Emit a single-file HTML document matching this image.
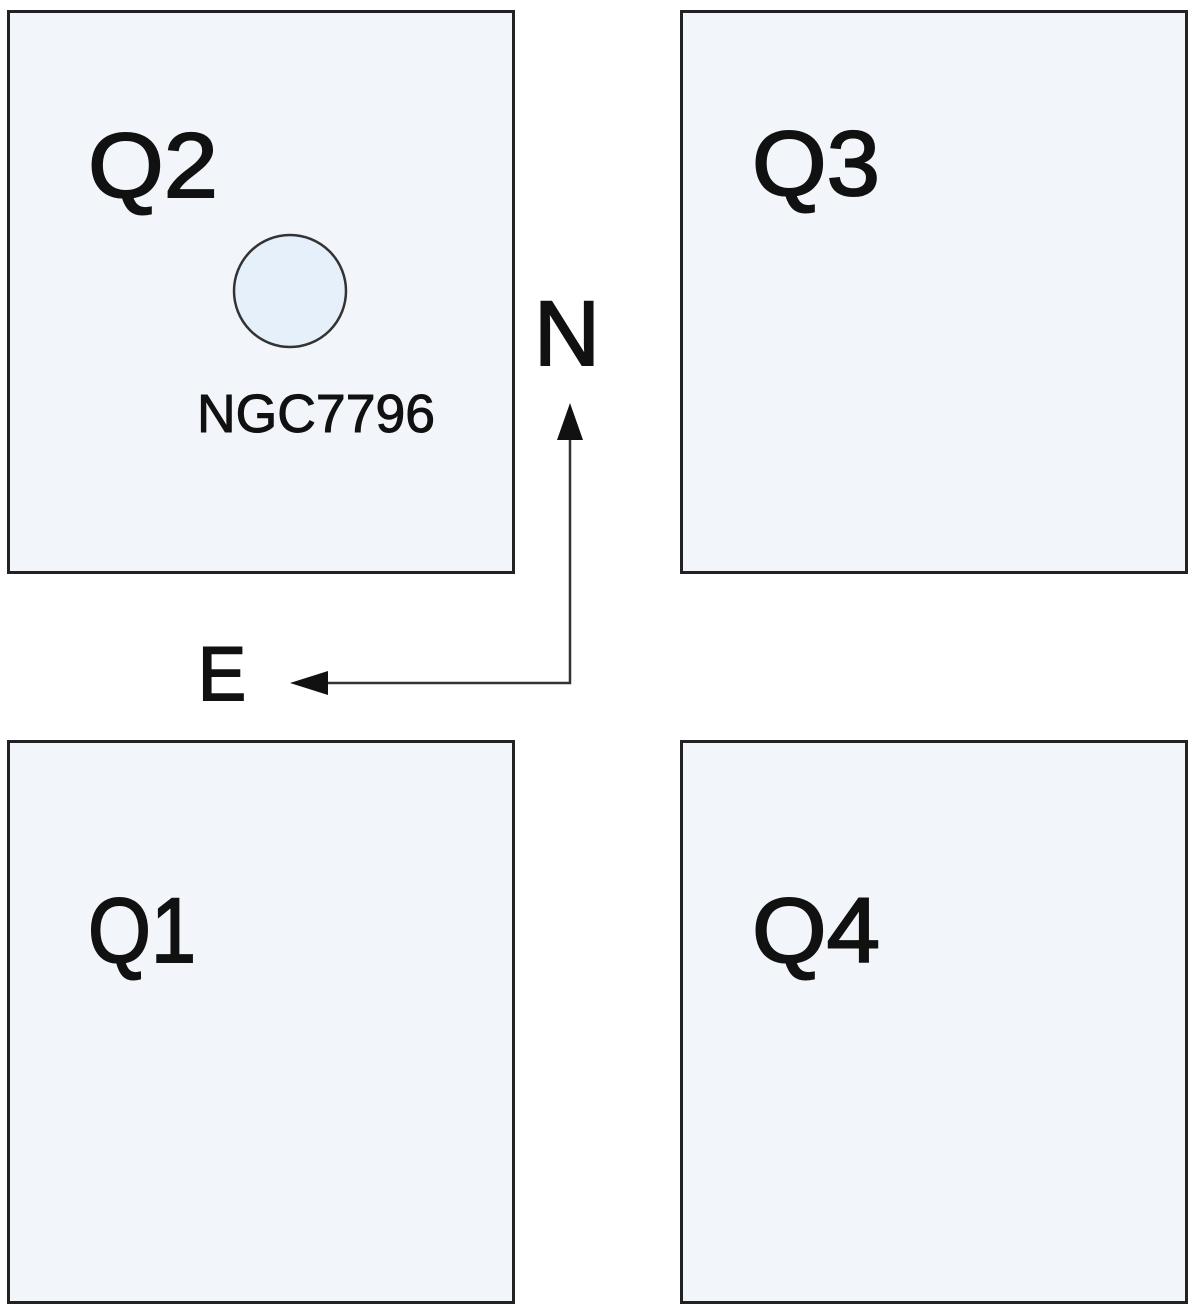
<!DOCTYPE html>
<html><head><meta charset="utf-8"><style>
html,body{margin:0;padding:0;background:#fff;}
svg{display:block;}
text{font-family:"Liberation Sans","DejaVu Sans",sans-serif;fill:#111;stroke:#111;stroke-width:2;}
text.s{stroke-width:1;}
</style></head><body>
<svg width="1200" height="1313" viewBox="0 0 1200 1313" xmlns="http://www.w3.org/2000/svg">
<g fill="#f2f6fb" stroke="#222" stroke-width="3">
<rect x="8.5" y="11.5" width="505" height="561"/>
<rect x="681.5" y="11.5" width="505" height="561"/>
<rect x="8.5" y="741.5" width="505" height="561"/>
<rect x="681.5" y="741.5" width="505" height="561"/>
</g>
<circle cx="290" cy="291" r="56" fill="#e6f0fb" stroke="#333" stroke-width="2.5"/>
<text x="88" y="197" font-size="92" textLength="130" lengthAdjust="spacingAndGlyphs">Q2</text>
<text x="752" y="195" font-size="92" textLength="128" lengthAdjust="spacingAndGlyphs">Q3</text>
<text x="88" y="962" font-size="92" textLength="108" lengthAdjust="spacingAndGlyphs">Q1</text>
<text x="752" y="962" font-size="92" textLength="128" lengthAdjust="spacingAndGlyphs">Q4</text>
<text class="s" x="197" y="432" font-size="54" textLength="238" lengthAdjust="spacingAndGlyphs">NGC7796</text>
<text x="534" y="365" font-size="92" textLength="66" lengthAdjust="spacingAndGlyphs">N</text>
<text x="198" y="700" font-size="76" textLength="48" lengthAdjust="spacingAndGlyphs">E</text>
<polyline points="570,440 570,683 326,683" fill="none" stroke="#333" stroke-width="2.5"/>
<polygon points="570,403 557,440 583,440" fill="#111"/>
<polygon points="290,683 328,671 328,695" fill="#111"/>
</svg>
</body></html>
